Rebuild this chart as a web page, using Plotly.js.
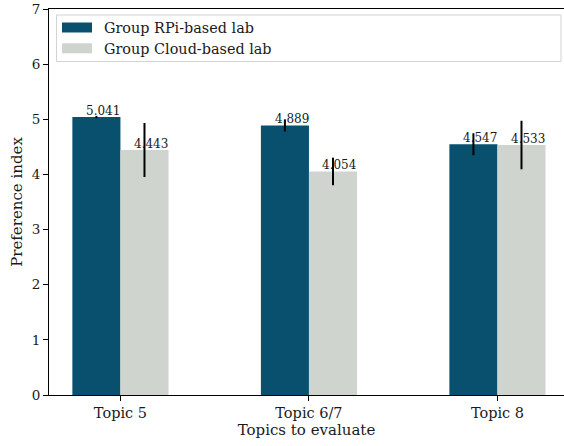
<!DOCTYPE html>
<html>
<head>
<meta charset="utf-8">
<script src="https://cdn.plot.ly/plotly-3.0.1.min.js"></script>
<style>html,body{margin:0;padding:0;background:#fff;overflow:hidden;}</style>
</head>
<body>
<div id="chart" style="width:564px;height:446px;"></div>
<script>
const categories = ["Topic 5", "Topic 6/7", "Topic 8"];
const seriesNames = ["Group RPi-based lab", "Group Cloud-based lab"];
const rpiValues = [5.041, 4.889, 4.547];
const cloudValues = [4.443, 4.054, 4.533];
const rpiErrors = [0.02, 0.11, 0.2];
const cloudErrors = [0.49, 0.25, 0.44];

const colors = ["#08506e", "#cfd4ce"];
const FONT = "DejaVu Serif";
const TXT = "#1a1a1a";

const W = 564, H = 446;
const M = {l: 49, r: 0, t: 9, b: 51};
const pw = W - M.l - M.r, ph = H - M.t - M.b;
const px = v => (v - M.l) / pw;
const py = v => (H - M.b - v) / ph;

const idx = categories.map((c, i) => i);
const bargap = 0.49;
const barW = (1 - bargap) / 2;

const traces = [
  {type: "bar", name: seriesNames[0], x: idx, y: rpiValues, marker: {color: colors[0]},
   error_y: {type: "data", array: rpiErrors, visible: true, color: "#000", thickness: 2, width: 0},
   showlegend: false, hoverinfo: "skip"},
  {type: "bar", name: seriesNames[1], x: idx, y: cloudValues, marker: {color: colors[1]},
   error_y: {type: "data", array: cloudErrors, visible: true, color: "#000", thickness: 2, width: 0},
   showlegend: false, hoverinfo: "skip"}
];

const annotations = [];
[rpiValues, cloudValues].forEach((vals, s) => {
  vals.forEach((v, i) => {
    annotations.push({
      x: i + (s === 0 ? -barW / 2 : barW / 2), y: v, xref: "x", yref: "y",
      text: v.toFixed(3), showarrow: false, xanchor: "center", yanchor: "bottom",
      xshift: 7, yshift: -3, font: {family: FONT, size: 12, color: TXT}
    });
  });
});

// legend (custom, matplotlib-like expanded box)
const shapes = [
  {type: "rect", xref: "paper", yref: "paper", x0: px(56.5), x1: px(561), y0: py(61.5), y1: py(15),
   line: {color: "#d3d3d3", width: 1}, fillcolor: "rgba(255,255,255,0.8)", layer: "above"}
];
const rowY = [27.5, 48.3];
seriesNames.forEach((n, s) => {
  shapes.push({type: "rect", xref: "paper", yref: "paper", x0: px(62), x1: px(92),
    y0: py(rowY[s] + 5), y1: py(rowY[s] - 5), line: {width: 0}, fillcolor: colors[s], layer: "above"});
  annotations.push({xref: "paper", yref: "paper", x: px(102), y: py(rowY[s] + 1), text: n,
    showarrow: false, xanchor: "left", yanchor: "middle", font: {family: FONT, size: 14.4, color: TXT}});
});

const layout = {
  width: W, height: H, margin: M,
  paper_bgcolor: "#fff", plot_bgcolor: "#fff",
  barmode: "group", bargap: bargap, bargroupgap: 0,
  font: {family: FONT, color: TXT},
  xaxis: {
    range: [-0.379, 2.353], tickvals: idx, ticktext: categories,
    ticks: "outside", ticklen: 5, tickcolor: "#000", showline: true, linecolor: "#000", linewidth: 1,
    mirror: true, showgrid: false, zeroline: false,
    tickfont: {family: FONT, size: 14.5, color: TXT},
    title: {text: "Topics to evaluate", font: {family: FONT, size: 15, color: TXT}, standoff: 4}
  },
  yaxis: {
    range: [0, 7], dtick: 1, tick0: 0,
    ticks: "outside", ticklen: 5, tickcolor: "#000", showline: true, linecolor: "#000", linewidth: 1,
    showgrid: false, zeroline: false,
    tickfont: {family: FONT, size: 13.5, color: TXT},
    title: {text: "Preference index", font: {family: FONT, size: 15, color: TXT}, standoff: 5}
  },
  shapes: shapes,
  annotations: annotations,
  showlegend: false
};

Plotly.newPlot("chart", traces, layout, {staticPlot: true, displayModeBar: false});
</script>
</body>
</html>
